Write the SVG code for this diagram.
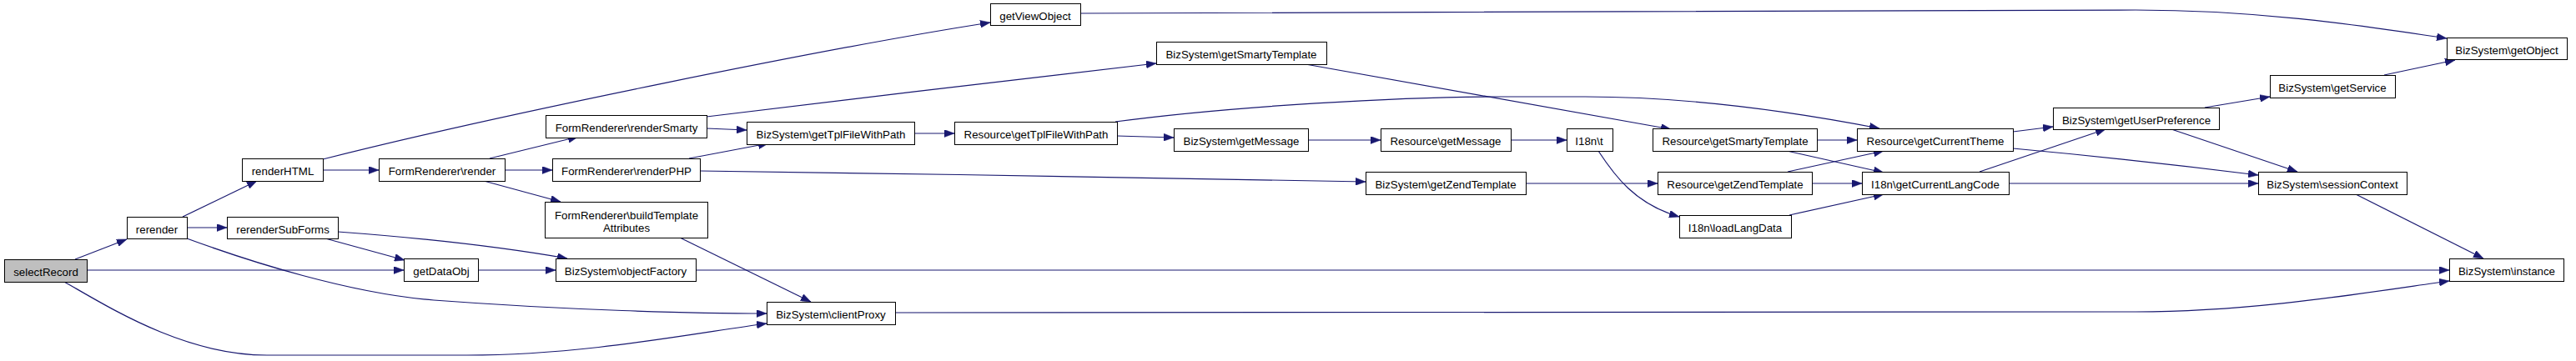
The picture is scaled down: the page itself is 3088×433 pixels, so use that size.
<svg xmlns="http://www.w3.org/2000/svg" width="3088" height="433" viewBox="0 0 3088 433">
<defs>
<style>
.n rect{fill:#fff;stroke:#000;stroke-width:1}
.n text{font-family:"Liberation Sans",Arial,Helvetica,sans-serif;font-size:13.3px;fill:#000;text-anchor:middle}
#edges path{fill:none;stroke:#191970;stroke-width:1.2;marker-end:url(#ah)}
</style>
<marker id="ah" viewBox="0 0 12 9" refX="12" refY="4.5" markerUnits="userSpaceOnUse" markerWidth="12" markerHeight="9" orient="auto">
<path d="M0,0 L12,4.5 L0,9 z" fill="#191970" stroke="#191970" stroke-width="0.5"/>
</marker>
</defs>
<rect width="3088" height="433" fill="#fff"/>
<g id="edges">
<path d="M90,311 L152,287"/>
<path d="M104,324 L484,324"/>
<path d="M77,338 C130,368 220,426 320,426 L560,426 C700,426 830,400 919,388"/>
<path d="M219,260 L308,217"/>
<path d="M224,273 L272,273"/>
<path d="M224,286 C300,314 420,352 520,360 C680,372 830,376 919,376"/>
<path d="M390,286 L485,312"/>
<path d="M405,278 C500,285 600,296 680,310"/>
<path d="M387,204 L454,204"/>
<path d="M387,191 C600,137 1000,56 1187,27"/>
<path d="M587,190 L693,164"/>
<path d="M605,204 L662,204"/>
<path d="M580,217 L672,242"/>
<path d="M847,154 L895,156"/>
<path d="M847,140 C1000,121 1250,92 1386,76"/>
<path d="M826,190 L921,172"/>
<path d="M839,205 C1100,208 1400,214 1637,218"/>
<path d="M815,285 L972,362"/>
<path d="M573,324 L666,324"/>
<path d="M834,324 L2936,324"/>
<path d="M1073,375 L2560,374 C2700,374 2830,352 2936,337"/>
<path d="M1096,160 L1144,160"/>
<path d="M1339,163 L1407,165"/>
<path d="M1337,146 C1480,127 1680,116 1800,116 L1900,116 C2020,116 2150,134 2253,154"/>
<path d="M1565,77 L2003,155"/>
<path d="M1568,168 L1655,168"/>
<path d="M1811,168 L1878,168"/>
<path d="M1916,181 C1935,210 1960,245 2013,260"/>
<path d="M1829,220 L1987,220"/>
<path d="M2178,168 L2226,168"/>
<path d="M2142,181 L2258,207"/>
<path d="M2143,206 L2258,181"/>
<path d="M2172,220 L2232,220"/>
<path d="M2145,258 L2258,233"/>
<path d="M2413,158 L2461,152"/>
<path d="M2413,178 C2500,186 2620,199 2707,210"/>
<path d="M2373,206 L2524,155"/>
<path d="M2408,220 L2707,220"/>
<path d="M2643,129 L2721,116"/>
<path d="M2603,155 L2754,206"/>
<path d="M2858,90 L2943,72"/>
<path d="M1295,16 L2560,12 C2720,12 2850,34 2933,46"/>
<path d="M2824,233 L2977,310"/>
</g>
<g id="n0" class="n"><rect x="5.5" y="311.5" width="99" height="27" style="fill:#bfbfbf"/><text x="55" y="331">selectRecord</text></g>
<g id="n1" class="n"><rect x="152.5" y="260.5" width="72" height="26"/><text x="188" y="279.5">rerender</text></g>
<g id="n2" class="n"><rect x="290.5" y="190.5" width="97" height="27"/><text x="339" y="210">renderHTML</text></g>
<g id="n3" class="n"><rect x="454.5" y="190.5" width="151" height="27"/><text x="530" y="210">FormRenderer\render</text></g>
<g id="n4" class="n"><rect x="272.5" y="260.5" width="133" height="26"/><text x="339" y="279.5">rerenderSubForms</text></g>
<g id="n5" class="n"><rect x="484.5" y="310.5" width="89" height="27"/><text x="529" y="330">getDataObj</text></g>
<g id="n6" class="n"><rect x="654.5" y="138.5" width="193" height="27"/><text x="751" y="158">FormRenderer\renderSmarty</text></g>
<g id="n7" class="n"><rect x="895.5" y="146.5" width="201" height="27"/><text x="996" y="166">BizSystem\getTplFileWithPath</text></g>
<g id="n8" class="n"><rect x="662.5" y="190.5" width="177" height="27"/><text x="751" y="210">FormRenderer\renderPHP</text></g>
<g id="n9" class="n"><rect x="653.5" y="242.5" width="195" height="43"/><text x="751" y="262.5">FormRenderer\buildTemplate</text><text x="751" y="278">Attributes</text></g>
<g id="n10" class="n"><rect x="666.5" y="310.5" width="168" height="27"/><text x="750" y="330">BizSystem\objectFactory</text></g>
<g id="n11" class="n"><rect x="919.5" y="362.5" width="154" height="27"/><text x="996" y="382">BizSystem\clientProxy</text></g>
<g id="n12" class="n"><rect x="1187.5" y="4.5" width="108" height="26"/><text x="1241" y="23.5">getViewObject</text></g>
<g id="n13" class="n"><rect x="1386.5" y="50.5" width="204" height="27"/><text x="1488" y="70">BizSystem\getSmartyTemplate</text></g>
<g id="n14" class="n"><rect x="1144.5" y="146.5" width="195" height="27"/><text x="1242" y="166">Resource\getTplFileWithPath</text></g>
<g id="n15" class="n"><rect x="1407.5" y="154.5" width="161" height="27"/><text x="1488" y="174">BizSystem\getMessage</text></g>
<g id="n16" class="n"><rect x="1655.5" y="154.5" width="156" height="27"/><text x="1733" y="174">Resource\getMessage</text></g>
<g id="n17" class="n"><rect x="1878.5" y="154.5" width="55" height="27"/><text x="1905" y="174">I18n\t</text></g>
<g id="n18" class="n"><rect x="1637.5" y="206.5" width="192" height="27"/><text x="1733" y="226">BizSystem\getZendTemplate</text></g>
<g id="n19" class="n"><rect x="1981.5" y="154.5" width="197" height="27"/><text x="2080" y="174">Resource\getSmartyTemplate</text></g>
<g id="n20" class="n"><rect x="1987.5" y="206.5" width="185" height="27"/><text x="2080" y="226">Resource\getZendTemplate</text></g>
<g id="n21" class="n"><rect x="2013.5" y="258.5" width="134" height="27"/><text x="2080" y="278">I18n\loadLangData</text></g>
<g id="n22" class="n"><rect x="2226.5" y="154.5" width="187" height="27"/><text x="2320" y="174">Resource\getCurrentTheme</text></g>
<g id="n23" class="n"><rect x="2232.5" y="206.5" width="176" height="27"/><text x="2320" y="226">I18n\getCurrentLangCode</text></g>
<g id="n24" class="n"><rect x="2461.5" y="129.5" width="199" height="26"/><text x="2561" y="148.5">BizSystem\getUserPreference</text></g>
<g id="n25" class="n"><rect x="2933.5" y="45.5" width="144" height="26"/><text x="3005" y="64.5">BizSystem\getObject</text></g>
<g id="n26" class="n"><rect x="2721.5" y="90.5" width="150" height="27"/><text x="2796" y="110">BizSystem\getService</text></g>
<g id="n27" class="n"><rect x="2707.5" y="206.5" width="178" height="27"/><text x="2796" y="226">BizSystem\sessionContext</text></g>
<g id="n28" class="n"><rect x="2936.5" y="310.5" width="137" height="27"/><text x="3005" y="330">BizSystem\instance</text></g>
</svg>
